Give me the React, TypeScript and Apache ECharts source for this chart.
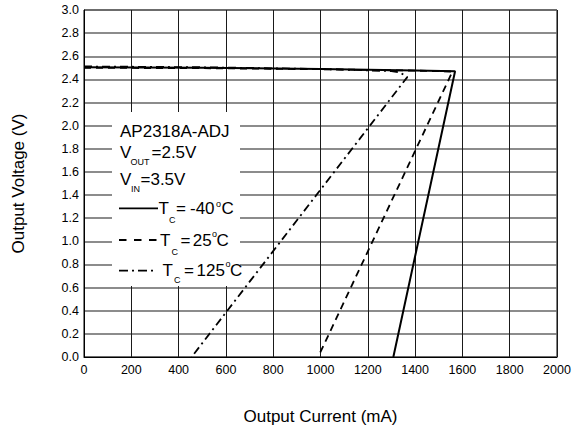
import React, { useEffect, useRef } from "react";
import * as echarts from "echarts";

// Output current (mA) / output voltage (V) per case temperature
const currentNeg40 = [0, 500, 1000, 1400, 1569, 1308];
const voltageNeg40 = [2.505, 2.5, 2.49, 2.478, 2.47, 0];
const current25 = [0, 500, 1000, 1400, 1558, 990];
const voltage25 = [2.5, 2.497, 2.488, 2.476, 2.468, 0];
const current125 = [0, 500, 1000, 1300, 1338, 1367, 455];
const voltage125 = [2.512, 2.505, 2.49, 2.472, 2.458, 2.42, 0];

const xMin = 0;
const xMax = 2000;
const xStep = 200;
const yMin = 0;
const yMax = 3.0;
const yStep = 0.2;

const xTitle = "Output Current (mA)";
const yTitle = "Output Voltage (V)";

const FONT = '"Liberation Sans", Arial, Helvetica, sans-serif';

function pairs(xs: number[], ys: number[]) {
  return xs.map((x, i) => [x, ys[i]]);
}

function txt(text: string, x: number, y: number, size: number) {
  return {
    type: "text",
    z: 20,
    x,
    y,
    style: {
      text,
      fill: "#000",
      font: `${size}px ${FONT}`,
      fontSize: size,
      fontFamily: FONT,
      align: "left",
      verticalAlign: "middle",
    },
  };
}

function sample(x1: number, x2: number, y: number, dash: number[] | null) {
  return {
    type: "line",
    z: 20,
    shape: { x1, y1: y, x2, y2: y },
    style: { stroke: "#000", lineWidth: 1.8, lineDash: dash || undefined },
  };
}

export default function App() {
  const ref = useRef<HTMLDivElement>(null);
  useEffect(() => {
    if (!ref.current) return;
    const chart = echarts.init(ref.current, undefined, { renderer: "svg" });
    chart.setOption({
      animation: false,
      backgroundColor: "#fff",
      textStyle: { fontFamily: FONT, color: "#000" },
      grid: {
        left: 84,
        top: 10,
        width: 473,
        height: 347,
        show: true,
        borderColor: "#000",
        borderWidth: 1,
        containLabel: false,
      },
      xAxis: {
        type: "value",
        min: xMin,
        max: xMax,
        interval: xStep,
        name: xTitle,
        nameLocation: "middle",
        nameGap: 51,
        nameTextStyle: { fontSize: 17, color: "#000", fontFamily: FONT },
        axisLine: { show: true, lineStyle: { color: "#000", width: 1 } },
        axisTick: { show: false },
        axisLabel: {
          fontSize: 12.5,
          color: "#000",
          margin: 6,
          fontFamily: FONT,
          formatter: (v: number) => String(v),
        },
        splitLine: { show: true, lineStyle: { color: "#1a1a1a", width: 1 } },
      },
      yAxis: {
        type: "value",
        min: yMin,
        max: yMax,
        interval: yStep,
        name: yTitle,
        nameLocation: "middle",
        nameRotate: 90,
        nameGap: 57,
        nameTextStyle: { fontSize: 17, color: "#000", fontFamily: FONT },
        axisLine: { show: true, lineStyle: { color: "#000", width: 1 } },
        axisTick: { show: false },
        axisLabel: {
          fontSize: 12.5,
          color: "#000",
          margin: 5,
          fontFamily: FONT,
          formatter: (v: number) => v.toFixed(1),
        },
        splitLine: { show: true, lineStyle: { color: "#666", width: 1.5 } },
      },
      series: [
        {
          type: "line",
          name: "TC=-40°C",
          data: pairs(currentNeg40, voltageNeg40),
          showSymbol: false,
          symbol: "none",
          z: 5,
          lineStyle: { color: "#000", width: 2, type: "solid" },
        },
        {
          type: "line",
          name: "TC=25°C",
          data: pairs(current25, voltage25),
          showSymbol: false,
          symbol: "none",
          z: 5,
          lineStyle: { color: "#000", width: 1.8, type: [7, 5] },
        },
        {
          type: "line",
          name: "TC=125°C",
          data: pairs(current125, voltage125),
          showSymbol: false,
          symbol: "none",
          z: 5,
          lineStyle: { color: "#000", width: 1.8, type: [8, 4, 2, 4] },
        },
      ],
      graphic: [
        {
          type: "rect",
          z: 10,
          shape: { x: 112, y: 112, width: 128, height: 174 },
          style: { fill: "#fff" },
        },
        txt("AP2318A-ADJ", 120, 131, 17),
        txt("V", 120, 152.5, 17),
        txt("OUT", 130.5, 162, 9),
        txt("=2.5V", 151.5, 152.5, 17),
        txt("V", 120, 179, 17),
        txt("IN", 131, 188.5, 9),
        txt("=3.5V", 140.5, 179, 17),
        sample(119, 158, 208.3, null),
        txt("T", 158.5, 208, 17),
        txt("C", 169, 220, 9),
        txt("=", 176, 208, 17),
        txt("-40", 190, 208, 17),
        txt("o", 216, 204, 9),
        txt("C", 221.5, 208, 17),
        sample(119, 158, 240, [7.5, 7.5]),
        txt("T", 160, 240.3, 17),
        txt("C", 171.5, 251.5, 9),
        txt("=", 180.5, 240.3, 17),
        txt("25", 192.8, 240.3, 17),
        txt("o", 212, 233.5, 9),
        txt("C", 216.5, 240.3, 17),
        sample(119, 155, 270.7, [9, 4, 2, 4]),
        txt("T", 162.5, 270, 17),
        txt("C", 174, 279.5, 9),
        txt("=", 184, 270, 17),
        txt("125", 196.5, 270, 17),
        txt("o", 225.5, 263.5, 9),
        txt("C", 230, 270, 17),
      ],
    });
    return () => chart.dispose();
  }, []);
  return (
    <div
      ref={ref}
      style={{ position: "fixed", left: 0, top: 0, width: 578, height: 430 }}
    />
  );
}
